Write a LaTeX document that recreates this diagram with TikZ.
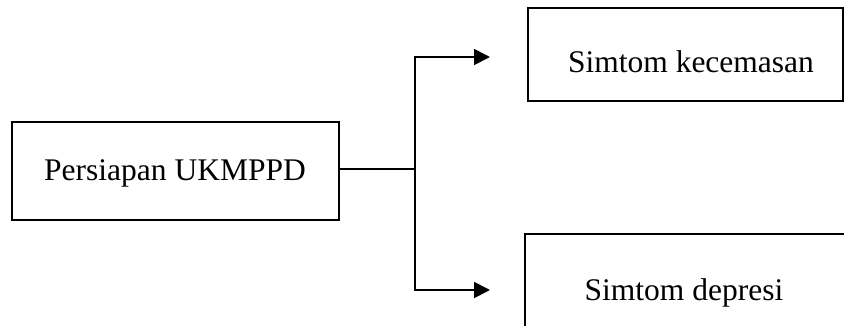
\documentclass[tikz,border=0pt]{standalone}
\usepackage{fontspec}
\setmainfont{Liberation Serif}
\usetikzlibrary{arrows.meta}
\begin{document}
\begin{tikzpicture}[x=1pt,y=-1pt,
  boxline/.style={draw=black,line width=1.8pt},
  conn/.style={draw=black,line width=1.8pt},
  arr/.style={conn,-{Triangle[length=16pt,width=16pt]}},
  lbl/.style={font=\fontsize{31.5}{34}\selectfont,anchor=base,inner sep=0pt}]
\useasboundingbox (0,0) rectangle (844,325);
\node[boxline,minimum width=327pt,minimum height=98pt,inner sep=0pt] (src) at (175.5,171) {};
\node[lbl] (srct) at (175,180) {Persiapan UKMPPD};
\node[boxline,minimum width=315pt,minimum height=93pt,inner sep=0pt] (top) at (685.5,54.5) {};
\node[lbl] (topt) at (691,72) {Simtom kecemasan};
\draw[boxline] (900,234) -- (525,234) -- (525,400);
\coordinate (bot) at (525,234);
\node[lbl] (bott) at (684,300) {Simtom depresi};
\coordinate (j) at (415,169);
\coordinate (tA) at (490,57);
\coordinate (tB) at (490,290);
\draw[conn] (src.east |- j) -- (j);
\draw[arr] (j) |- (tA);
\draw[arr] (j) |- (tB);
\end{tikzpicture}
\end{document}
